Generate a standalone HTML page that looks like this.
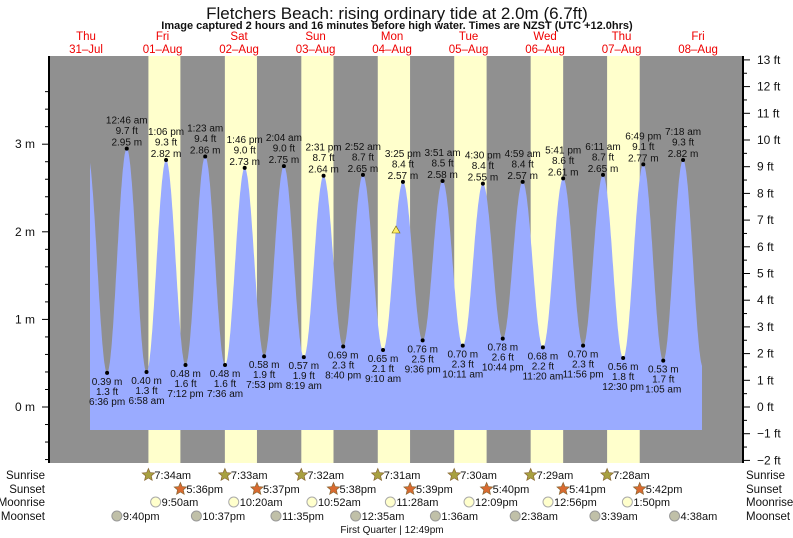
<!DOCTYPE html>
<html><head><meta charset="utf-8"><style>
html,body{margin:0;padding:0;background:#fff;}
svg{display:block;font-family:"Liberation Sans",sans-serif;}
</style></head><body>
<svg id="s" width="793" height="538" viewBox="0 0 793 538" xmlns="http://www.w3.org/2000/svg"></svg>
<script>
var s=document.getElementById('s');var o='';
var X0=47.8,K=3.1875;
function X(t){return X0+t*K;}
function Y(h){return 407-h*87.6;}
o+='<rect x="49" y="56" width="694" height="407" fill="#909090"/>';
var sr=[7+34/60,7+33/60,7+32/60,7+31/60,7+30/60,7+29/60,7+28/60];
var ss=[17+36/60,17+37/60,17+38/60,17+39/60,17+40/60,17+41/60,17+42/60];
for(var d=0;d<7;d++){var a=X(24*(d+1)+sr[d]),b=X(24*(d+1)+ss[d]);o+='<rect x="'+a+'" y="56" width="'+(b-a)+'" height="407" fill="#ffffcc"/>';}
var E=[[12.4,2.9],[18.6,0.39],[24.77,2.95],[30.97,0.40],[37.1,2.82],[43.2,0.48],[49.38,2.86],[55.6,0.48],[61.77,2.73],[67.88,0.58],[74.07,2.75],[80.32,0.57],[86.52,2.64],[92.67,0.69],[98.87,2.65],[105.17,0.65],[111.42,2.57],[117.6,0.76],[123.85,2.58],[130.18,0.70],[136.5,2.55],[142.73,0.78],[148.98,2.57],[155.33,0.68],[161.68,2.61],[167.93,0.70],[174.18,2.65],[180.5,0.56],[186.82,2.77],[193.08,0.53],[199.3,2.82],[205.6,0.45]];
function H(t){for(var i=0;i<E.length-1;i++){if(t>=E[i][0]&&t<=E[i+1][0]){var f=(t-E[i][0])/(E[i+1][0]-E[i][0]);return E[i][1]+(E[i+1][1]-E[i][1])*(1-Math.cos(Math.PI*f))/2;}}return 0.5;}
var t0=(90-X0)/K,t1=(702-X0)/K;
var p='M90,430 ';for(var t=t0;t<=t1;t+=0.1){p+='L'+X(t).toFixed(1)+','+Y(H(t)).toFixed(1)+' ';}
p+='L702,'+Y(H(t1)).toFixed(1)+' L702,430 Z';
o+='<path d="'+p+'" fill="#9aabff"/>';
var L=[["6:36 pm","1.3","0.39"],["12:46 am","9.7","2.95"],["6:58 am","1.3","0.40"],["1:06 pm","9.3","2.82"],["7:12 pm","1.6","0.48"],["1:23 am","9.4","2.86"],["7:36 am","1.6","0.48"],["1:46 pm","9.0","2.73"],["7:53 pm","1.9","0.58"],["2:04 am","9.0","2.75"],["8:19 am","1.9","0.57"],["2:31 pm","8.7","2.64"],["8:40 pm","2.3","0.69"],["2:52 am","8.7","2.65"],["9:10 am","2.1","0.65"],["3:25 pm","8.4","2.57"],["9:36 pm","2.5","0.76"],["3:51 am","8.5","2.58"],["10:11 am","2.3","0.70"],["4:30 pm","8.4","2.55"],["10:44 pm","2.6","0.78"],["4:59 am","8.4","2.57"],["11:20 am","2.2","0.68"],["5:41 pm","8.6","2.61"],["11:56 pm","2.3","0.70"],["6:11 am","8.7","2.65"],["12:30 pm","1.8","0.56"],["6:49 pm","9.1","2.77"],["1:05 am","1.7","0.53"],["7:18 am","9.3","2.82"]];
var tx='font-size="10" fill="#111" text-anchor="middle"';
for(var i=0;i<L.length;i++){var e=E[i+1],x=X(e[0]),y=Y(e[1]);o+='<circle cx="'+x+'" cy="'+y+'" r="2" fill="#000"/>';
if(e[1]>1.5){o+='<text x="'+x+'" y="'+(y-25)+'" '+tx+'>'+L[i][0]+'</text><text x="'+x+'" y="'+(y-14.5)+'" '+tx+'>'+L[i][1]+' ft</text><text x="'+x+'" y="'+(y-3)+'" '+tx+'>'+L[i][2]+' m</text>';}
else{o+='<text x="'+x+'" y="'+(y+12)+'" '+tx+'>'+L[i][2]+' m</text><text x="'+x+'" y="'+(y+22)+'" '+tx+'>'+L[i][1]+' ft</text><text x="'+x+'" y="'+(y+32)+'" '+tx+'>'+L[i][0]+'</text>';}}
o+='<polygon points="396,226 392,233 400,233" fill="#ffee66" stroke="#776600" stroke-width="0.6"/>';
o+='<line x1="49" y1="56" x2="49" y2="463" stroke="#000" stroke-width="2"/><line x1="743" y1="56" x2="743" y2="463" stroke="#000" stroke-width="2"/>';
for(var h=-0.6;h<=3.61;h+=0.2){var y=Y(h);if(y<56||y>463)continue;var m=Math.abs(h-Math.round(h))<0.01;o+='<line x1="'+(m?42:45)+'" y1="'+y+'" x2="49" y2="'+y+'" stroke="#000"/>';if(m)o+='<text x="35" y="'+(y+4)+'" font-size="12" text-anchor="end" fill="#111">'+Math.round(h)+' m</text>';}
for(var f=-2;f<=13;f+=0.5){var y=407-f*26.7;var m=f%1==0;o+='<line x1="743" y1="'+y+'" x2="'+(m?750:747)+'" y2="'+y+'" stroke="#000"/>';if(m)o+='<text x="757" y="'+(y+4)+'" font-size="12" fill="#111">'+(f<0?'\u2212'+(-f):f)+' ft</text>';}
o+='<text x="397" y="19" font-size="17" text-anchor="middle" fill="#111">Fletchers Beach: rising  ordinary tide at 2.0m (6.7ft)</text>';
o+='<text x="397" y="29" font-size="11" font-weight="bold" text-anchor="middle" fill="#111">Image captured 2 hours and 16 minutes before high water. Times are NZST (UTC +12.0hrs)</text>';
var D=[["Thu","31\u2013Jul"],["Fri","01\u2013Aug"],["Sat","02\u2013Aug"],["Sun","03\u2013Aug"],["Mon","04\u2013Aug"],["Tue","05\u2013Aug"],["Wed","06\u2013Aug"],["Thu","07\u2013Aug"],["Fri","08\u2013Aug"]];
for(var d=0;d<9;d++){var x=X(24*d+12);o+='<text x="'+x+'" y="40" font-size="11.5" fill="#e00" text-anchor="middle">'+D[d][0]+'</text><text x="'+x+'" y="53" font-size="11.5" fill="#e00" text-anchor="middle">'+D[d][1]+'</text>';}
var R=[["Sunrise",479],["Sunset",493],["Moonrise",506],["Moonset",520]];
for(var r=0;r<4;r++){o+='<text x="45" y="'+R[r][1]+'" font-size="11.5" text-anchor="end" fill="#111">'+R[r][0]+'</text><text x="746" y="'+R[r][1]+'" font-size="11.5" fill="#111">'+R[r][0]+'</text>';}
function star(x,y,c){var q='';for(var k=0;k<10;k++){var rr=k%2?3:6.5,a=-Math.PI/2+k*Math.PI/5;q+=(x+rr*Math.cos(a)).toFixed(1)+','+(y+rr*Math.sin(a)).toFixed(1)+' ';}return '<polygon points="'+q+'" fill="'+c+'" stroke="#886633" stroke-width="0.7"/>';}
var srl=["7:34am","7:33am","7:32am","7:31am","7:30am","7:29am","7:28am"],ssl=["5:36pm","5:37pm","5:38pm","5:39pm","5:40pm","5:41pm","5:42pm"];
for(var d=0;d<7;d++){var x=X(24*(d+1)+sr[d]);o+=star(x,475,'#a8a040')+'<text x="'+(x+6)+'" y="479" font-size="11" fill="#111">'+srl[d]+'</text>';
x=X(24*(d+1)+ss[d]);o+=star(x,489,'#d86a30')+'<text x="'+(x+6)+'" y="493" font-size="11" fill="#111">'+ssl[d]+'</text>';}
var MR=[[33.83,"9:50am"],[58.33,"10:20am"],[82.87,"10:52am"],[107.47,"11:28am"],[132.15,"12:09pm"],[156.93,"12:56pm"],[181.83,"1:50pm"]];
for(var i=0;i<7;i++){var x=X(MR[i][0]);o+='<circle cx="'+x+'" cy="502" r="5" fill="#ffffcc" stroke="#aaa"/><text x="'+(x+6)+'" y="506" font-size="11" fill="#111">'+MR[i][1]+'</text>';}
var MS=[[21.67,"9:40pm"],[46.62,"10:37pm"],[71.58,"11:35pm"],[96.58,"12:35am"],[121.6,"1:36am"],[146.63,"2:38am"],[171.65,"3:39am"],[196.63,"4:38am"]];
for(var i=0;i<8;i++){var x=X(MS[i][0]);o+='<circle cx="'+x+'" cy="516" r="5" fill="#c0c0a8" stroke="#999"/><text x="'+(x+6)+'" y="520" font-size="11" fill="#111">'+MS[i][1]+'</text>';}
o+='<text x="392" y="533" font-size="10" text-anchor="middle" fill="#111">First Quarter | 12:49pm</text>';
s.innerHTML=o;
</script>
</body></html>
